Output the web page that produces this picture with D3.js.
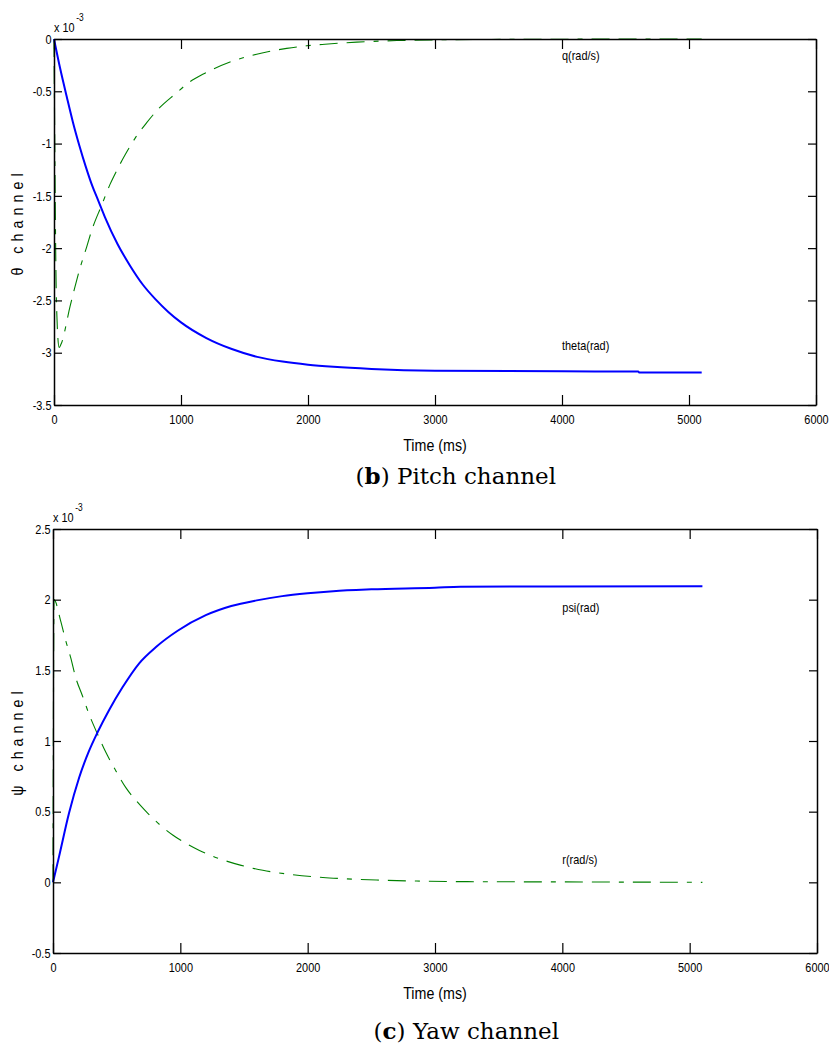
<!DOCTYPE html>
<html>
<head>
<meta charset="utf-8">
<script src="https://cdn.jsdelivr.net/npm/d3@7"></script>
<style>
  html, body { margin: 0; padding: 0; background: #fff; }
  svg { display: block; }
  .tick text, .lbl { font-family: "Liberation Sans", Arial, sans-serif; fill: #000; }
  .tick text { font-size: 13px; }
  .cap { font-family: "DejaVu Serif", "Liberation Serif", serif; fill: #000; }
</style>
</head>
<body>
<script>
// ---- Pitch channel (values in units of 1e-3) ----
const thetaTime = [0, 50, 100, 150, 200, 250, 300, 350, 400, 500, 600, 700, 800, 900, 1000, 1200, 1400, 1600, 1800, 2000, 2200, 2500, 3000, 4000, 4600, 4610, 5100];
const thetaVal  = [0, -0.29, -0.55, -0.80, -1.02, -1.22, -1.40, -1.55, -1.70, -1.96, -2.17, -2.35, -2.49, -2.61, -2.71, -2.86, -2.965, -3.04, -3.085, -3.115, -3.135, -3.155, -3.172, -3.178, -3.18, -3.19, -3.19];

const qTime = [0, 20, 40, 55, 126, 165, 205, 257, 297, 375, 441, 493, 559, 638, 730, 821, 960, 1058, 1176, 1241, 1386, 1596, 1832, 1990, 2134, 2383, 2700, 3000, 4000, 5100];
const qVal  = [0, -2.55, -2.95, -2.92, -2.56, -2.37, -2.19, -1.99, -1.83, -1.59, -1.39, -1.26, -1.11, -0.95, -0.80, -0.67, -0.52, -0.42, -0.335, -0.295, -0.22, -0.145, -0.09, -0.065, -0.05, -0.03, -0.015, -0.008, -0.002, 0];

// ---- Yaw channel (values in units of 1e-3) ----
const psiTime = [0, 47, 126, 205, 283, 349, 441, 546, 677, 809, 979, 1200, 1400, 1600, 1800, 2000, 2200, 2500, 3000, 3200, 5100];
const psiVal  = [0, 0.18, 0.49, 0.74, 0.93, 1.06, 1.22, 1.38, 1.55, 1.665, 1.78, 1.89, 1.955, 1.995, 2.025, 2.045, 2.06, 2.073, 2.085, 2.092, 2.095];

const rTime = [0, 8, 60, 100, 139, 178, 231, 283, 349, 415, 493, 572, 651, 743, 848, 940, 1045, 1150, 1254, 1346, 1478, 1648, 1884, 2120, 2278, 2541, 2856, 3200, 4000, 5100];
const rVal  = [0, 2.0, 1.85, 1.71, 1.59, 1.45, 1.32, 1.19, 1.05, 0.92, 0.79, 0.67, 0.58, 0.49, 0.40, 0.335, 0.275, 0.225, 0.185, 0.155, 0.12, 0.085, 0.054, 0.034, 0.026, 0.016, 0.009, 0.005, 0.003, 0];

// ---- Axis ticks and labels ----
const xTicks = [0, 1000, 2000, 3000, 4000, 5000, 6000];
const pitchYTicks = [0, -0.5, -1, -1.5, -2, -2.5, -3, -3.5];
const yawYTicks = [-0.5, 0, 0.5, 1, 1.5, 2, 2.5];

const W = 829, H = 1046;
const NARROW = 0.84;   // horizontal squeeze for the condensed sans labels
const svg = d3.select("body").append("svg").attr("width", W).attr("height", H);

function fmt(d) { return d === 0 ? "0" : String(d); }

// condensed text placed at (x, y)
function narrowText(parent, x, y, size, str, extra) {
  const t = parent.append("text").attr("class", "lbl")
    .attr("transform", `translate(${x},${y}) ${extra || ""} scale(${NARROW},1)`)
    .attr("font-size", size);
  if (str !== null) t.text(str);
  return t;
}

function panel(cfg) {
  const x = d3.scaleLinear().domain([0, 6000]).range([cfg.left, cfg.right]);
  const y = d3.scaleLinear().domain(cfg.yDomain).range([cfg.bottom, cfg.top]);
  const g = svg.append("g");

  // data lines
  const line = d3.line().x(d => x(d[0])).y(d => y(d[1])).curve(d3.curveMonotoneX);
  cfg.series.forEach(s => {
    const pts = s.t.map((t, i) => [t, s.v[i]]);
    g.append("path").datum(pts)
      .attr("d", line)
      .attr("fill", "none")
      .attr("stroke", s.color)
      .attr("stroke-width", s.width)
      .attr("stroke-dasharray", s.dash || null)
      .attr("stroke-linejoin", "round");
  });

  // axes box with inward ticks
  const axStyle = sel => {
    sel.selectAll(".domain").attr("stroke", "#000").attr("stroke-width", 1.5);
    sel.selectAll(".tick line").attr("stroke", "#000").attr("stroke-width", 1.2);
    sel.selectAll(".tick text").attr("transform", `scale(${NARROW},1)`);
  };
  g.append("g").attr("transform", `translate(0,${cfg.bottom})`)
    .call(d3.axisBottom(x).tickValues(xTicks).tickFormat(fmt).tickSizeInner(-10).tickSizeOuter(0).tickPadding(10))
    .call(axStyle);
  g.append("g").attr("transform", `translate(0,${cfg.top})`)
    .call(d3.axisTop(x).tickValues(xTicks).tickFormat("").tickSizeInner(-10).tickSizeOuter(0))
    .call(axStyle);
  g.append("g").attr("transform", `translate(${cfg.left},0)`)
    .call(d3.axisLeft(y).tickValues(cfg.yTicks).tickFormat(fmt).tickSizeInner(-8).tickSizeOuter(0).tickPadding(3))
    .call(axStyle);
  g.append("g").attr("transform", `translate(${cfg.right},0)`)
    .call(d3.axisRight(y).tickValues(cfg.yTicks).tickFormat("").tickSizeInner(-8).tickSizeOuter(0))
    .call(axStyle);
  g.selectAll(".tick text").attr("font-family", null).attr("font-size", null);

  // exponent label
  const ex = narrowText(g, cfg.left, cfg.top - 7, 13, null);
  ex.append("tspan").text("x 10");
  ex.append("tspan").attr("dx", 2).attr("dy", -11).attr("font-size", 10).text("-3");

  // x label
  narrowText(g, (cfg.left + cfg.right) / 2, cfg.bottom + 46, 17, "Time (ms)")
    .attr("text-anchor", "middle");

  // y label
  narrowText(g, 23, (cfg.top + cfg.bottom) / 2, 17, cfg.yLabel, "rotate(-90)")
    .attr("text-anchor", "middle").attr("letter-spacing", "6px");

  // series annotations
  cfg.notes.forEach(n => narrowText(g, x(n.t), y(n.v), 13, n.text));

  // caption
  const cap = g.append("text").attr("class", "cap")
    .attr("x", cfg.capX).attr("y", cfg.capY)
    .attr("text-anchor", "end").attr("font-size", 23);
  cap.append("tspan").text("(");
  cap.append("tspan").attr("font-weight", "bold").text(cfg.capLetter);
  cap.append("tspan").text(") " + cfg.capText);
}

panel({
  left: 54, right: 816, top: 39, bottom: 405,
  yDomain: [-3.5, 0], yTicks: pitchYTicks,
  yLabel: "θ channel",
  series: [
    { t: qTime, v: qVal, color: "#008000", width: 1.1, dash: "18,9,18,9,5,9" },
    { t: thetaTime, v: thetaVal, color: "#0000ff", width: 2 }
  ],
  notes: [
    { t: 4000, v: -0.2, text: "q(rad/s)" },
    { t: 4000, v: -2.97, text: "theta(rad)" }
  ],
  capX: 556, capY: 484, capLetter: "b", capText: "Pitch channel"
});

panel({
  left: 53, right: 817, top: 529, bottom: 953,
  yDomain: [-0.5, 2.5], yTicks: yawYTicks,
  yLabel: "ψ channel",
  series: [
    { t: rTime, v: rVal, color: "#008000", width: 1.1, dash: "18,9,18,9,5,9" },
    { t: psiTime, v: psiVal, color: "#0000ff", width: 2 }
  ],
  notes: [
    { t: 4000, v: 1.91, text: "psi(rad)" },
    { t: 4000, v: 0.13, text: "r(rad/s)" }
  ],
  capX: 559, capY: 1039, capLetter: "c", capText: "Yaw channel"
});
</script>
</body>
</html>
